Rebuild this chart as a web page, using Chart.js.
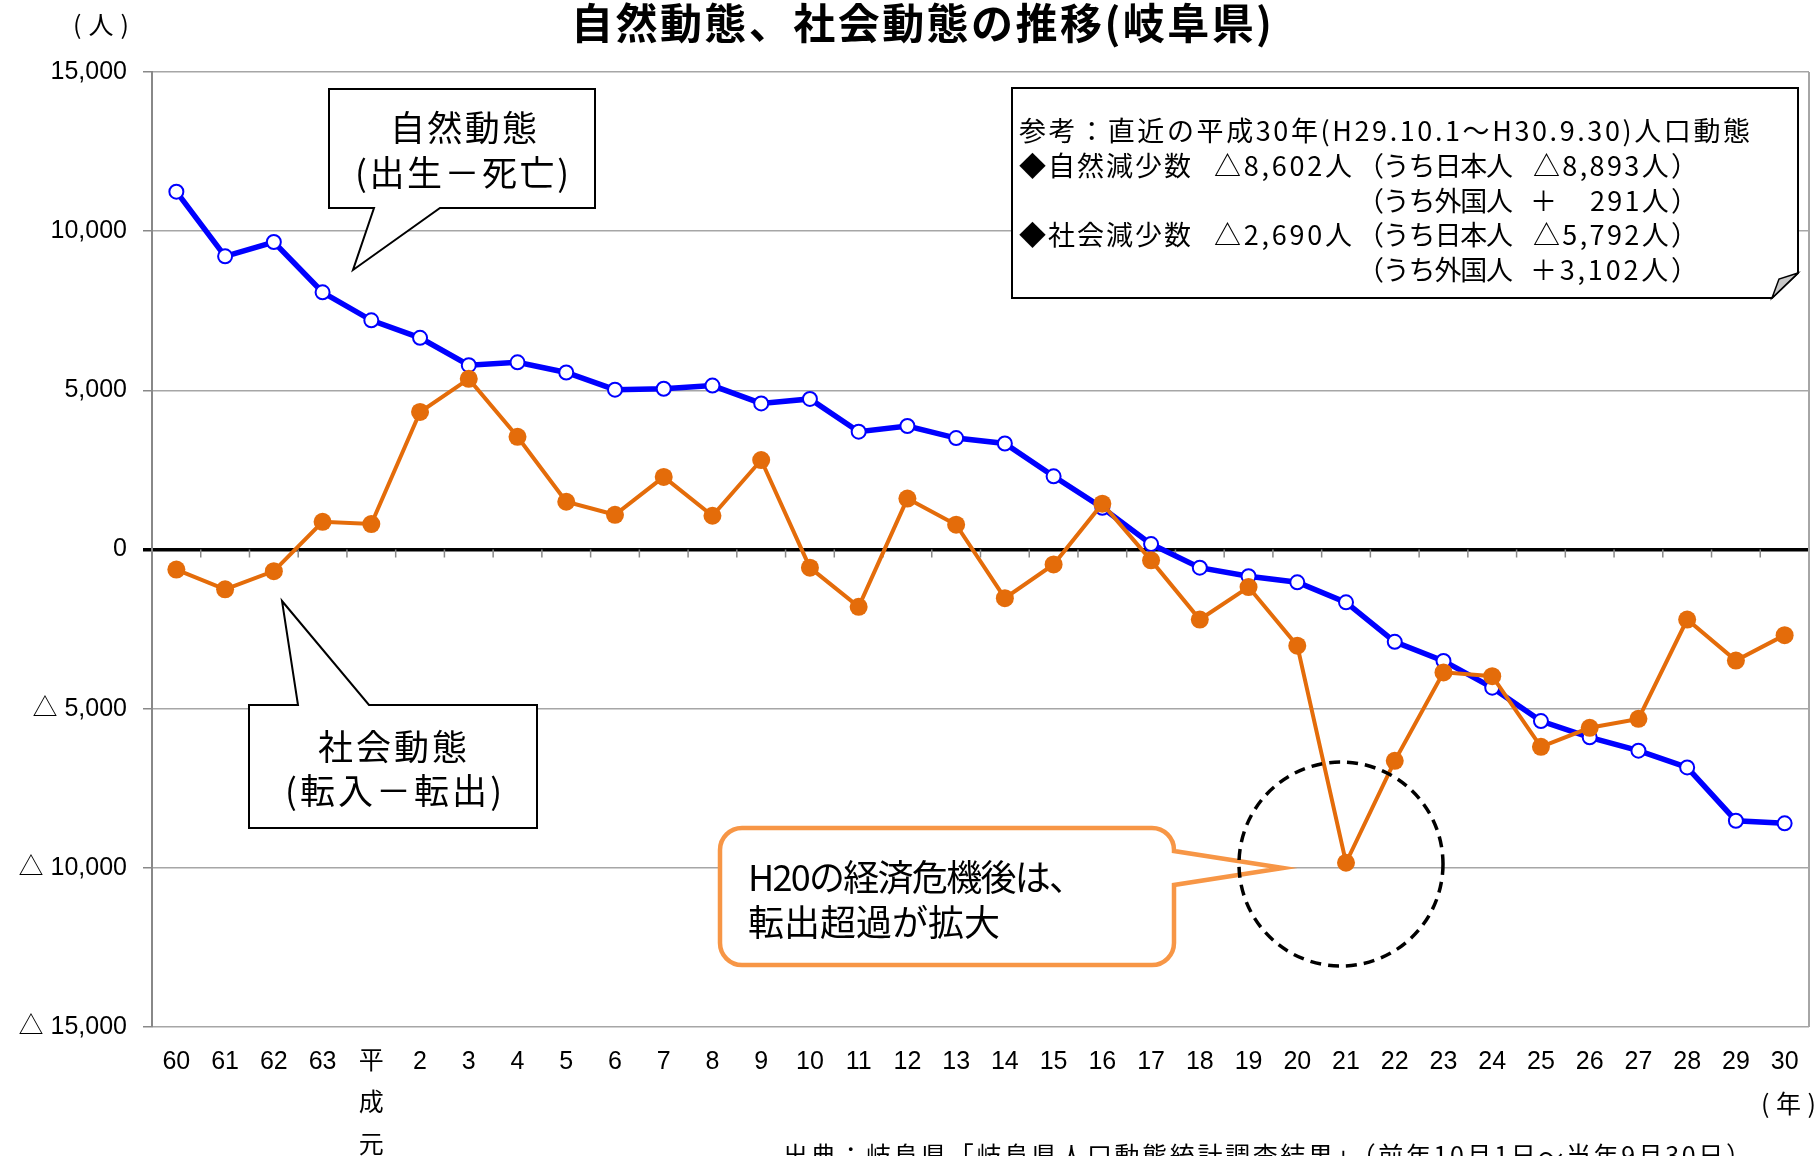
<!DOCTYPE html>
<html lang="ja">
<head>
<meta charset="UTF-8">
<title>自然動態、社会動態の推移（岐阜県）</title>
<script src="https://cdn.jsdelivr.net/npm/chart.js"></script>
<style>
  html, body { margin: 0; padding: 0; background: #fff; }
  canvas { display: block; }
</style>
</head>
<body>
<canvas id="chart" width="1818" height="1156"></canvas>
<script>
  // 年（昭和60年～平成30年）
  const years = ['60', '61', '62', '63', '平成元', '2', '3', '4', '5', '6', '7', '8', '9', '10',
    '11', '12', '13', '14', '15', '16', '17', '18', '19', '20', '21', '22', '23', '24', '25',
    '26', '27', '28', '29', '30'];

  // 自然動態（出生－死亡）
  const natural = [11240, 9210, 9660, 8080, 7200, 6650, 5790, 5880, 5560, 5020, 5050, 5150,
    4590, 4730, 3700, 3880, 3500, 3330, 2300, 1310, 170, -570, -840, -1030, -1660, -2900,
    -3500, -4340, -5390, -5900, -6320, -6845, -8520, -8602];

  // 社会動態（転入－転出）
  const social = [-630, -1250, -680, 870, 800, 4320, 5360, 3540, 1500, 1090, 2280, 1060,
    2810, -570, -1800, 1600, 780, -1530, -470, 1440, -340, -2200, -1180, -3020, -9840, -6640,
    -3860, -3980, -6200, -5600, -5320, -2200, -3490, -2690];

  // 縦軸の目盛
  const yTicks = [-15000, -10000, -5000, 0, 5000, 10000, 15000];

  const NUM = "'Liberation Sans', 'Noto Sans CJK JP', sans-serif";
  const JP = "'Noto Sans CJK JP', sans-serif";
  const GRID = '#A6A6A6';

  // 文字を指定の幅に合わせて描く
  function fitText(ctx, text, x, y, w) {
    ctx.letterSpacing = '0px';
    const n = Array.from(text).length;
    const m = ctx.measureText(text).width;
    const ls = n > 1 ? (w - m) / (n - 1) : 0;
    ctx.letterSpacing = ls + 'px';
    ctx.textAlign = 'left';
    ctx.fillText(text, x, y);
    ctx.letterSpacing = '0px';
  }

  const decorations = {
    id: 'decorations',
    beforeDatasetsDraw(chart) {
      const ctx = chart.ctx;
      const a = chart.chartArea;
      const xs = chart.scales.x;
      const y0 = chart.scales.y.getPixelForValue(0);
      ctx.save();
      // 右枠
      ctx.strokeStyle = GRID;
      ctx.lineWidth = 2;
      ctx.beginPath();
      ctx.moveTo(a.right, a.top);
      ctx.lineTo(a.right, a.bottom);
      ctx.stroke();
      // 0線上の目盛
      ctx.strokeStyle = '#888';
      ctx.lineWidth = 1.5;
      for (let i = 1; i < years.length; i++) {
        const x = (xs.getPixelForValue(i - 1) + xs.getPixelForValue(i)) / 2;
        ctx.beginPath();
        ctx.moveTo(x, y0);
        ctx.lineTo(x, y0 + 8);
        ctx.stroke();
      }
      ctx.restore();
    },
    afterDraw(chart) {
      const ctx = chart.ctx;
      ctx.save();
      ctx.fillStyle = '#000';
      ctx.textBaseline = 'middle';

      // タイトル
      ctx.font = 'bold 42px ' + JP;
      fitText(ctx, '自然動態、社会動態の推移(岐阜県)', 571, 23, 701);
      ctx.font = '25px ' + JP;
      fitText(ctx, '(人)', 73, 24, 56);
      fitText(ctx, '(年)', 1761, 1103, 55);

      // 吹き出し：自然動態
      ctx.fillStyle = '#fff';
      ctx.strokeStyle = '#000';
      ctx.lineWidth = 2;
      ctx.beginPath();
      ctx.moveTo(329, 89); ctx.lineTo(595, 89); ctx.lineTo(595, 208);
      ctx.lineTo(440, 208); ctx.lineTo(353, 270); ctx.lineTo(374, 208);
      ctx.lineTo(329, 208); ctx.closePath();
      ctx.fill(); ctx.stroke();
      ctx.fillStyle = '#000';
      ctx.font = '35px ' + JP;
      fitText(ctx, '自然動態', 390, 128, 147);
      fitText(ctx, '(出生－死亡)', 355, 173, 214);

      // 吹き出し：社会動態
      ctx.fillStyle = '#fff';
      ctx.beginPath();
      ctx.moveTo(249, 705); ctx.lineTo(298, 705); ctx.lineTo(282, 601);
      ctx.lineTo(369, 705); ctx.lineTo(537, 705); ctx.lineTo(537, 828);
      ctx.lineTo(249, 828); ctx.closePath();
      ctx.fill(); ctx.stroke();
      ctx.fillStyle = '#000';
      fitText(ctx, '社会動態', 318, 747, 149);
      fitText(ctx, '(転入－転出)', 285, 791, 217);

      // 吹き出し：H20
      const L = 720, R = 1174, T = 828, B = 965, r = 22;
      ctx.fillStyle = '#fff';
      ctx.strokeStyle = '#F79646';
      ctx.lineWidth = 4.5;
      ctx.beginPath();
      ctx.moveTo(L + r, T);
      ctx.lineTo(R - r, T);
      ctx.arcTo(R, T, R, T + r, r);
      ctx.lineTo(R, 851); ctx.lineTo(1283, 868); ctx.lineTo(R, 885);
      ctx.lineTo(R, B - r);
      ctx.arcTo(R, B, R - r, B, r);
      ctx.lineTo(L + r, B);
      ctx.arcTo(L, B, L, B - r, r);
      ctx.lineTo(L, T + r);
      ctx.arcTo(L, T, L + r, T, r);
      ctx.closePath();
      ctx.fill(); ctx.stroke();
      ctx.fillStyle = '#000';
      ctx.font = '36px ' + JP;
      fitText(ctx, 'H20の経済危機後は、', 748, 877, 337);
      fitText(ctx, '転出超過が拡大', 748, 922, 252);

      // 破線の円
      ctx.strokeStyle = '#000';
      ctx.lineWidth = 3.5;
      ctx.setLineDash([11, 7]);
      ctx.beginPath();
      ctx.arc(1341, 864, 102, 0, Math.PI * 2);
      ctx.stroke();
      ctx.setLineDash([]);

      // 参考の枠
      ctx.fillStyle = '#fff';
      ctx.lineWidth = 2;
      ctx.beginPath();
      ctx.moveTo(1012, 88); ctx.lineTo(1798, 88); ctx.lineTo(1798, 273);
      ctx.lineTo(1772, 298); ctx.lineTo(1012, 298); ctx.closePath();
      ctx.fill(); ctx.stroke();
      ctx.fillStyle = '#C8C8C8';
      ctx.lineWidth = 1.5;
      ctx.beginPath();
      ctx.moveTo(1798, 273); ctx.lineTo(1772, 298); ctx.lineTo(1779, 279); ctx.closePath();
      ctx.fill(); ctx.stroke();

      ctx.fillStyle = '#000';
      ctx.font = '27px ' + JP;
      const rows = [131, 166, 201, 235, 270];
      fitText(ctx, '参考：直近の平成30年(H29.10.1～H30.9.30)人口動態', 1019, rows[0], 731);
      fitText(ctx, '◆自然減少数', 1019, rows[1], 172);
      fitText(ctx, '△8,602人', 1214, rows[1], 138);
      fitText(ctx, '（うち日本人', 1357, rows[1], 156);
      fitText(ctx, '△8,893人）', 1533, rows[1], 165);
      fitText(ctx, '（うち外国人', 1357, rows[2], 156);
      fitText(ctx, '＋', 1530, rows[2], 26);
      fitText(ctx, '291人）', 1590, rows[2], 108);
      fitText(ctx, '◆社会減少数', 1019, rows[3], 172);
      fitText(ctx, '△2,690人', 1214, rows[3], 138);
      fitText(ctx, '（うち日本人', 1357, rows[3], 156);
      fitText(ctx, '△5,792人）', 1533, rows[3], 165);
      fitText(ctx, '（うち外国人', 1357, rows[4], 156);
      fitText(ctx, '＋3,102人）', 1530, rows[4], 168);

      // 出典
      ctx.font = '25px ' + JP;
      fitText(ctx, '出典：岐阜県「岐阜県人口動態統計調査結果」（前年10月1日～当年9月30日）', 783, 1155, 968);
      ctx.restore();
    }
  };

  const ctx = document.getElementById('chart').getContext('2d');
  new Chart(ctx, {
    type: 'line',
    data: {
      labels: years,
      datasets: [{
        label: '社会動態',
        data: social,
        order: 0,
        borderColor: '#E46C0A',
        backgroundColor: '#E46C0A',
        borderWidth: 4,
        pointRadius: 9,
        pointBorderWidth: 0,
        pointBackgroundColor: '#E46C0A',
        tension: 0
      }, {
        label: '自然動態',
        data: natural,
        order: 1,
        borderColor: '#0000FF',
        backgroundColor: '#fff',
        borderWidth: 5.5,
        pointRadius: 7,
        pointBorderWidth: 2,
        pointBorderColor: '#0000FF',
        pointBackgroundColor: '#fff',
        tension: 0
      }]
    },
    options: {
      responsive: false,
      animation: false,
      devicePixelRatio: 1,
      layout: { padding: { left: 0, right: 9, top: 72, bottom: 0 } },
      plugins: { legend: { display: false }, tooltip: { enabled: false } },
      scales: {
        x: {
          offset: true,
          grid: { display: false, drawTicks: false, offset: true },
          border: { display: false },
          ticks: {
            autoSkip: false,
            maxRotation: 0,
            padding: 14,
            color: '#000',
            font: { family: NUM, size: 25, lineHeight: 42 / 25 },
            callback: function (v) {
              const s = this.getLabelForValue(v);
              return s === '平成元' ? s.split('') : s;
            }
          },
          afterFit(scale) { scale.height = 129; }
        },
        y: {
          min: yTicks[0],
          max: yTicks[yTicks.length - 1],
          ticks: {
            stepSize: yTicks[1] - yTicks[0],
            padding: 16,
            color: '#000',
            font: { family: NUM, size: 25 },
            callback: v => v < 0 ? '△ ' + Math.abs(v).toLocaleString('en-US') : v.toLocaleString('en-US')
          },
          grid: {
            color: c => c.tick && c.tick.value === 0 ? '#000' : GRID,
            lineWidth: c => c.tick && c.tick.value === 0 ? 3.5 : 1.5,
            tickColor: c => c.tick && c.tick.value === 0 ? '#000' : '#888',
            tickLength: 9
          },
          border: { color: '#888', width: 2 },
          afterFit(scale) { scale.width = 152; }
        }
      }
    },
    plugins: [decorations]
  });
</script>
</body>
</html>
